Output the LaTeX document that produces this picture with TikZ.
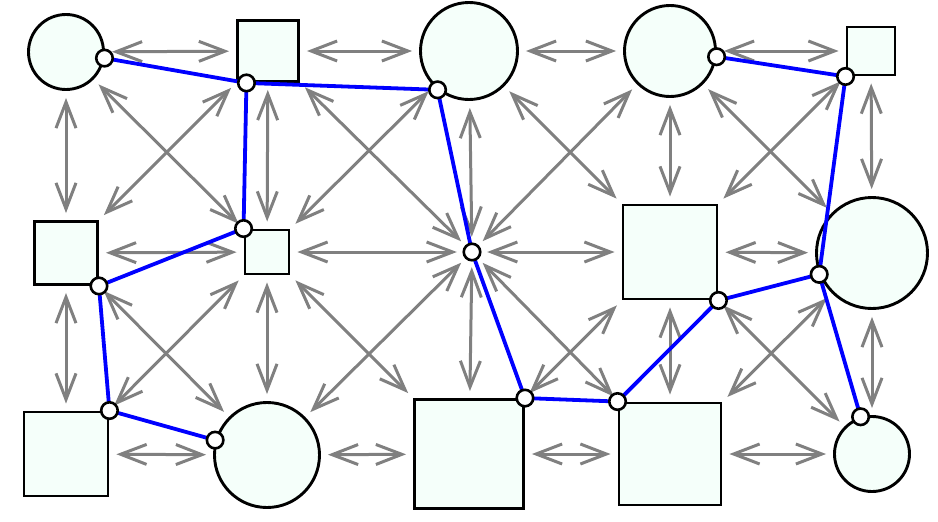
\documentclass[tikz,border=0pt]{standalone}
\usetikzlibrary{arrows.meta}
\definecolor{mintfill}{RGB}{245,255,250}
\begin{document}
\begin{tikzpicture}[x=1pt,y=-1pt,
  shapebase/.style={draw=black, fill=mintfill, line width=2.9pt, inner sep=0pt},
  roundshape/.style={shapebase, circle, minimum size=#1},
  squareshape/.style={shapebase, rectangle, minimum width=#1, minimum height=#1},
  hubshape/.style={circle, draw=none, minimum size=16pt, inner sep=0pt},
  biarrow/.style={draw=gray, line width=3pt,
    {Straight Barb[length=26pt,width=20pt]}-{Straight Barb[length=26pt,width=20pt]},
    shorten <=7pt, shorten >=7pt},
  treeline/.style={draw=blue, line width=3.8pt},
  dotnode/.style={circle, draw=black, fill=white, line width=2.6pt, minimum size=16.5pt, inner sep=0pt}]
\useasboundingbox (0,0) rectangle (938,522);
% shapes
\node[roundshape=75pt]   (n00) at (66,52)  {};
\node[squareshape=61pt]  (n10) at (268,51) {};
\node[roundshape=97pt]   (n20) at (469,51) {};
\node[roundshape=91pt]   (n30) at (670,51) {};
\node[squareshape=48pt]  (n40) at (871,51) {};
\node[squareshape=63pt]  (n01) at (66,253) {};
\node[squareshape=44pt]  (n11) at (267,252) {};
\node[hubshape]          (n21) at (472,252) {};
\node[squareshape=94pt]  (n31) at (670,252) {};
\node[roundshape=111pt]  (n41) at (872,253) {};
\node[squareshape=84pt]  (n02) at (66,454) {};
\node[roundshape=105pt]  (n12) at (267,455) {};
\node[squareshape=109pt] (n22) at (469,454) {};
\node[squareshape=102pt] (n32) at (670,454) {};
\node[roundshape=75pt]   (n42) at (872,454) {};
% gray double arrows
\foreach \r in {0,1,2}{
  \foreach \c in {0,1,2,3}{
    \pgfmathtruncatemacro{\cn}{\c+1}
    \draw[biarrow] (n\c\r) -- (n\cn\r);
  }
}
\foreach \c in {0,1,2,3,4}{
  \foreach \r in {0,1}{
    \pgfmathtruncatemacro{\rn}{\r+1}
    \draw[biarrow] (n\c\r) -- (n\c\rn);
  }
}
\foreach \c in {0,1,2,3}{
  \foreach \r in {0,1}{
    \pgfmathtruncatemacro{\cn}{\c+1}
    \pgfmathtruncatemacro{\rn}{\r+1}
    \draw[biarrow] (n\c\r) -- (n\cn\rn);
    \draw[biarrow] (n\cn\r) -- (n\c\rn);
  }
}
% tree points
\coordinate (pA) at (n00.-9);
\coordinate (pB) at (n10.-124.5);
\coordinate (pC) at (n20.-129);
\coordinate (pD) at (n11.north west);
\coordinate (pE) at (n01.south east);
\coordinate (pF) at (n02.north east);
\coordinate (pG) at (n12.164);
\coordinate (pH) at (n21.center);
\coordinate (pI) at (n22.north east);
\coordinate (pJ) at (n32.north west);
\coordinate (pK) at (n31.south east);
\coordinate (pL) at (n41.-158);
\coordinate (pM) at (n40.south west);
\coordinate (pN) at (n42.107);
\coordinate (pO) at (n30.-7);
% blue tree
\draw[treeline] (pA) -- (pB) -- (pC) -- (pH) -- (pI) -- (pJ) -- (pK) -- (pL) -- (pM) -- (pO);
\draw[treeline] (pB) -- (pD) -- (pE) -- (pF) -- (pG);
\draw[treeline] (pL) -- (pN);
% dots
\foreach \p in {A,B,C,D,E,F,G,H,I,J,K,L,M,N,O}{
  \node[dotnode] (d\p) at (p\p) {};
}
\end{tikzpicture}
\end{document}
